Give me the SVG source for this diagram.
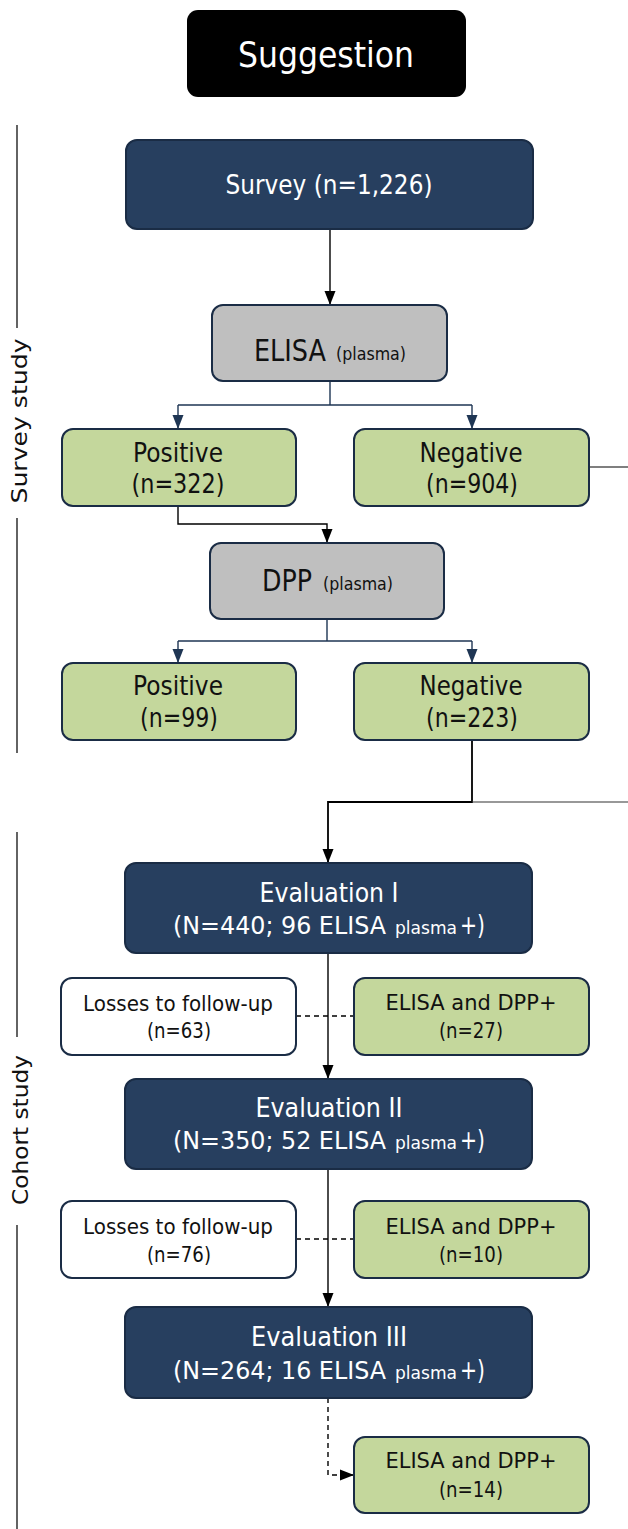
<svg xmlns="http://www.w3.org/2000/svg" width="628" height="1529" viewBox="0 0 628 1529">
<style>
.t{font-family:"DejaVu Sans","Liberation Sans",sans-serif;text-anchor:middle}
.s{font-family:"DejaVu Sans","Liberation Sans",sans-serif;text-anchor:start}
.w{fill:#fff}
.k{fill:#111}
.navy{fill:#273f5f;stroke:#1a2c45;stroke-width:2}
.gray{fill:#bfbfbf;stroke:#1a2c45;stroke-width:2}
.green{fill:#c4d79c;stroke:#1a2c45;stroke-width:2}
.white{fill:#fff;stroke:#1a2c45;stroke-width:2}
.ln{fill:none;stroke:#000;stroke-width:1.4}
.nl{fill:none;stroke:#1f3654;stroke-width:1.4}
.dash{stroke-dasharray:5,4}
.side{fill:none;stroke:#111;stroke-width:1.3}
</style>
<defs>
<marker id="ak" markerWidth="14" markerHeight="12" refX="14" refY="6" orient="auto" markerUnits="userSpaceOnUse" viewBox="0 0 14 12"><path d="M0,0.5 L14,6 L0,11.5 z" fill="#000"/></marker>
<marker id="an" markerWidth="14" markerHeight="12" refX="14" refY="6" orient="auto" markerUnits="userSpaceOnUse" viewBox="0 0 14 12"><path d="M0,0.5 L14,6 L0,11.5 z" fill="#1f3654"/></marker>
</defs>

<g id="side-labels">
<path class="side" d="M17,125 V328 M17,518 V753 M17,832 V1037 M17,1225 V1529"/>
<text class="t k" font-size="21" transform="translate(27,421) rotate(-90)" textLength="165" lengthAdjust="spacingAndGlyphs">Survey study</text>
<text class="t k" font-size="21" transform="translate(28,1130) rotate(-90)" textLength="150" lengthAdjust="spacingAndGlyphs">Cohort study</text>
</g>

<g id="connectors">
<path class="ln" d="M330,230 V305" marker-end="url(#ak)"/>
<path class="nl" d="M330,381 V405 M178,405 H472"/>
<path class="nl" d="M178,405 V429" marker-end="url(#an)"/>
<path class="nl" d="M472,405 V429" marker-end="url(#an)"/>
<path class="ln" d="M589,467 H628" style="stroke-width:1.2"/>
<path class="ln" d="M178,506 V524 H327 V543" marker-end="url(#ak)"/>
<path class="nl" d="M327,619 V641 M178,641 H472"/>
<path class="nl" d="M178,641 V663" marker-end="url(#an)"/>
<path class="nl" d="M472,641 V663" marker-end="url(#an)"/>
<path class="ln" d="M472,740 V802 H328 V863" style="stroke-width:1.8" marker-end="url(#ak)"/>
<path class="ln" d="M472,802 H628" style="stroke:#333;stroke-width:1.2"/>
<path class="ln" d="M328,953 V1079" marker-end="url(#ak)"/>
<path class="ln dash" d="M296,1016 H354"/>
<path class="ln" d="M328,1169 V1307" marker-end="url(#ak)"/>
<path class="ln dash" d="M296,1239 H354"/>
<path class="ln dash" d="M328,1398 V1475 H354" marker-end="url(#ak)"/>
</g>

<g id="suggestion">
<rect x="187" y="10" width="279" height="87" rx="11" fill="#000"/>
<text class="t w" x="326" y="67" font-size="35" textLength="176" lengthAdjust="spacingAndGlyphs">Suggestion</text>
</g>

<g id="survey">
<rect class="navy" x="126" y="140" width="407" height="89" rx="11"/>
<text class="t w" x="329" y="194" font-size="26" textLength="207" lengthAdjust="spacingAndGlyphs">Survey (n=1,226)</text>
</g>

<g id="elisa">
<rect class="gray" x="212" y="305" width="235" height="76" rx="11"/>
<text class="s k" x="254" y="361" font-size="31" textLength="72" lengthAdjust="spacingAndGlyphs">ELISA</text>
<text class="s k" x="336" y="360" font-size="18" textLength="70" lengthAdjust="spacingAndGlyphs">(plasma)</text>
</g>

<g id="positive1">
<rect class="green" x="62" y="429" width="234" height="77" rx="11"/>
<text class="t k" x="178" y="462" font-size="27" textLength="90" lengthAdjust="spacingAndGlyphs">Positive</text>
<text class="t k" x="178" y="493" font-size="27" textLength="93" lengthAdjust="spacingAndGlyphs">(n=322)</text>
</g>

<g id="negative1">
<rect class="green" x="354" y="429" width="235" height="77" rx="11"/>
<text class="t k" x="471" y="462" font-size="27" textLength="103" lengthAdjust="spacingAndGlyphs">Negative</text>
<text class="t k" x="472" y="493" font-size="27" textLength="92" lengthAdjust="spacingAndGlyphs">(n=904)</text>
</g>

<g id="dpp">
<rect class="gray" x="210" y="543" width="234" height="76" rx="11"/>
<text class="s k" x="262" y="591" font-size="31" textLength="50" lengthAdjust="spacingAndGlyphs">DPP</text>
<text class="s k" x="323" y="590" font-size="18" textLength="70" lengthAdjust="spacingAndGlyphs">(plasma)</text>
</g>

<g id="positive2">
<rect class="green" x="62" y="663" width="234" height="77" rx="11"/>
<text class="t k" x="178" y="695" font-size="27" textLength="90" lengthAdjust="spacingAndGlyphs">Positive</text>
<text class="t k" x="179" y="727" font-size="27" textLength="78" lengthAdjust="spacingAndGlyphs">(n=99)</text>
</g>

<g id="negative2">
<rect class="green" x="354" y="663" width="235" height="77" rx="11"/>
<text class="t k" x="471" y="695" font-size="27" textLength="103" lengthAdjust="spacingAndGlyphs">Negative</text>
<text class="t k" x="472" y="727" font-size="27" textLength="92" lengthAdjust="spacingAndGlyphs">(n=223)</text>
</g>

<g id="eval1">
<rect class="navy" x="125" y="863" width="407" height="90" rx="11"/>
<text class="t w" x="329" y="902" font-size="26" textLength="139" lengthAdjust="spacingAndGlyphs">Evaluation I</text>
<text class="s w" x="173" y="934" font-size="24" textLength="213" lengthAdjust="spacingAndGlyphs">(N=440; 96 ELISA</text>
<text class="s w" x="395" y="934" font-size="17" textLength="62" lengthAdjust="spacingAndGlyphs">plasma</text>
<text class="s w" x="460" y="934" font-size="26" textLength="25" lengthAdjust="spacingAndGlyphs">+)</text>
</g>

<g id="losses1">
<rect class="white" x="61" y="978" width="235" height="77" rx="11"/>
<text class="t k" x="178" y="1011" font-size="21" textLength="190" lengthAdjust="spacingAndGlyphs">Losses to follow-up</text>
<text class="t k" x="179" y="1038" font-size="21" textLength="64" lengthAdjust="spacingAndGlyphs">(n=63)</text>
</g>

<g id="pos-eval1">
<rect class="green" x="354" y="978" width="235" height="77" rx="11"/>
<text class="t k" x="471" y="1010" font-size="22" textLength="171" lengthAdjust="spacingAndGlyphs">ELISA and DPP+</text>
<text class="t k" x="471" y="1038" font-size="21" textLength="64" lengthAdjust="spacingAndGlyphs">(n=27)</text>
</g>

<g id="eval2">
<rect class="navy" x="125" y="1079" width="407" height="90" rx="11"/>
<text class="t w" x="329" y="1117" font-size="26" textLength="147" lengthAdjust="spacingAndGlyphs">Evaluation II</text>
<text class="s w" x="173" y="1149" font-size="24" textLength="213" lengthAdjust="spacingAndGlyphs">(N=350; 52 ELISA</text>
<text class="s w" x="395" y="1149" font-size="17" textLength="62" lengthAdjust="spacingAndGlyphs">plasma</text>
<text class="s w" x="460" y="1149" font-size="26" textLength="25" lengthAdjust="spacingAndGlyphs">+)</text>
</g>

<g id="losses2">
<rect class="white" x="61" y="1201" width="235" height="77" rx="11"/>
<text class="t k" x="178" y="1234" font-size="21" textLength="190" lengthAdjust="spacingAndGlyphs">Losses to follow-up</text>
<text class="t k" x="179" y="1262" font-size="21" textLength="64" lengthAdjust="spacingAndGlyphs">(n=76)</text>
</g>

<g id="pos-eval2">
<rect class="green" x="354" y="1201" width="235" height="77" rx="11"/>
<text class="t k" x="471" y="1234" font-size="22" textLength="171" lengthAdjust="spacingAndGlyphs">ELISA and DPP+</text>
<text class="t k" x="471" y="1262" font-size="21" textLength="64" lengthAdjust="spacingAndGlyphs">(n=10)</text>
</g>

<g id="eval3">
<rect class="navy" x="125" y="1307" width="407" height="91" rx="11"/>
<text class="t w" x="329" y="1346" font-size="26" textLength="156" lengthAdjust="spacingAndGlyphs">Evaluation III</text>
<text class="s w" x="173" y="1379" font-size="24" textLength="213" lengthAdjust="spacingAndGlyphs">(N=264; 16 ELISA</text>
<text class="s w" x="395" y="1379" font-size="17" textLength="62" lengthAdjust="spacingAndGlyphs">plasma</text>
<text class="s w" x="460" y="1379" font-size="26" textLength="25" lengthAdjust="spacingAndGlyphs">+)</text>
</g>

<g id="pos-eval3">
<rect class="green" x="354" y="1437" width="235" height="76" rx="11"/>
<text class="t k" x="471" y="1468" font-size="22" textLength="171" lengthAdjust="spacingAndGlyphs">ELISA and DPP+</text>
<text class="t k" x="471" y="1497" font-size="21" textLength="64" lengthAdjust="spacingAndGlyphs">(n=14)</text>
</g>
</svg>
